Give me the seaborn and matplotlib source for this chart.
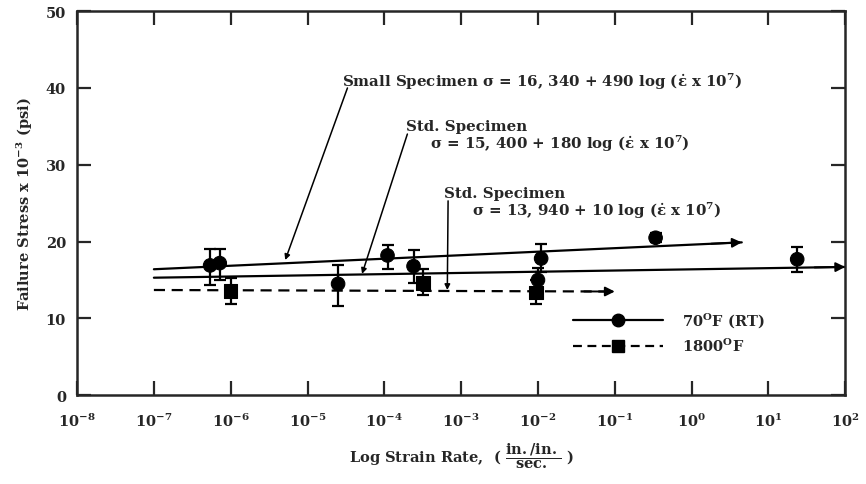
import seaborn as sns
import matplotlib.pyplot as plt
import numpy as np
import pandas as pd
from matplotlib.lines import Line2D

# 70F (RT) data points: strain rate, stress (ksi), error bar low / high
rt_rate = [5.4e-7, 7.2e-7, 2.5e-5, 1.1e-4, 2.4e-4, 1.1e-2, 1.0e-2, 0.34, 23.7]
rt_stress = [16.9, 17.2, 14.5, 18.2, 16.8, 17.8, 15.0, 20.5, 17.7]
rt_low = [14.4, 15.0, 11.6, 16.4, 14.6, 16.0, 13.5, 19.9, 16.0]
rt_high = [19.0, 19.0, 16.9, 19.5, 18.9, 19.7, 16.5, 21.1, 19.3]

# 1800F data points
hot_rate = [1.0e-6, 3.2e-4, 9.5e-3]
hot_stress = [13.6, 14.6, 13.4]
hot_low = [11.9, 13.1, 11.9]
hot_high = [15.3, 16.4, 15.0]

# fitted lines (end points)
small_x = [1e-7, 4.5]
small_y = [16.4, 19.9]
std_x = [1e-7, 100]
std_y = [15.3, 16.7]
hotfit_x = [1e-7, 0.1]
hotfit_y = [13.7, 13.5]

xtick_vals = [10.0**k for k in range(-8, 3)]
ytick_vals = [0, 10, 20, 30, 40, 50]

sns.set_style('ticks')
plt.rcParams['font.family'] = ['DejaVu Serif']
plt.rcParams['font.weight'] = 'bold'
plt.rcParams['mathtext.fontset'] = 'dejavuserif'
plt.rcParams['mathtext.default'] = 'bf'

fig = plt.figure(figsize=(8.66, 4.85), dpi=100)
ax = fig.add_axes([0.089, 0.183, 0.887, 0.792])

pts = pd.concat([
    pd.DataFrame({'rate': rt_rate, 'stress': rt_stress, 'temp': 'RT'}),
    pd.DataFrame({'rate': hot_rate, 'stress': hot_stress, 'temp': 'hot'}),
], ignore_index=True)

# error bars
for xs, ys, lo, hi in [(rt_rate, rt_stress, rt_low, rt_high),
                       (hot_rate, hot_stress, hot_low, hot_high)]:
    ys = np.array(ys)
    yerr = [ys - np.array(lo), np.array(hi) - ys]
    ax.errorbar(xs, ys, yerr=yerr, fmt='none', ecolor='black',
                elinewidth=1.6, capsize=4.5, capthick=1.6, zorder=3)

# points
sns.scatterplot(data=pts, x='rate', y='stress', style='temp',
                markers={'RT': 'o', 'hot': 's'}, color='black',
                s=95, edgecolor='black', legend=False, zorder=4, ax=ax)

# fitted lines
sns.lineplot(x=small_x, y=small_y, color='black', lw=1.6, ax=ax)
sns.lineplot(x=std_x, y=std_y, color='black', lw=1.6, ax=ax)
sns.lineplot(x=hotfit_x, y=hotfit_y, color='black', lw=1.6, ax=ax)
ax.lines[-1].set_linestyle((0, (5, 3)))

# arrow heads at the ends of the lines
for xs, ys in [(small_x, small_y), (std_x, std_y), (hotfit_x, hotfit_y)]:
    lx = np.log10(xs)
    back = xs[-1] / 2.5
    yb = np.interp(np.log10(back), lx, ys)
    ax.annotate('', xy=(xs[-1], ys[-1]), xytext=(back, yb),
                arrowprops=dict(arrowstyle='-|>', color='black', lw=1.4,
                                mutation_scale=14, shrinkA=0, shrinkB=0),
                annotation_clip=False)

# labels of the fitted lines
txt = dict(fontsize=10.8, fontweight='bold', va='center', ha='left')
ax.text(10**-4.55, 40.9, r'Small Specimen $\sigma$ = 16, 340 + 490 log ($\dot{\epsilon}$ x 10$^7$)', **txt)
ax.text(10**-3.72, 35.1, 'Std. Specimen', **txt)
ax.text(10**-3.40, 32.9, r'$\sigma$ = 15, 400 + 180 log ($\dot{\epsilon}$ x 10$^7$)', **txt)
ax.text(10**-3.22, 26.3, 'Std. Specimen', **txt)
ax.text(10**-2.86, 24.1, r'$\sigma$ = 13, 940 + 10 log ($\dot{\epsilon}$ x 10$^7$)', **txt)

lead = dict(arrowstyle='-|>', color='black', lw=1.1, mutation_scale=8,
            shrinkA=0, shrinkB=0)
ax.annotate('', xy=(10**-5.29, 17.6), xytext=(10**-4.48, 40.0), arrowprops=lead)
ax.annotate('', xy=(10**-4.29, 15.8), xytext=(10**-3.70, 34.0), arrowprops=lead)
ax.annotate('', xy=(10**-3.18, 13.7), xytext=(10**-3.17, 25.3), arrowprops=lead)

# legend
handles = [
    Line2D([], [], color='black', lw=1.6, marker='o', markersize=9),
    Line2D([], [], color='black', lw=1.6, ls=(0, (4, 2.5)), marker='s', markersize=8),
]
ax.legend(handles, [r'70$^{\mathrm{O}}$F (RT)', r'1800$^{\mathrm{O}}$F'],
          loc='center left', bbox_to_anchor=(0.628, 0.165), frameon=False,
          handlelength=6.2, numpoints=1, fontsize=10.5, labelspacing=0.5,
          handletextpad=1.3)

# axes
ax.set_xscale('log')
ax.set_xlim(1e-8, 1e2)
ax.set_ylim(0, 50)
ax.set_xticks(xtick_vals)
ax.set_yticks(ytick_vals)
ax.minorticks_off()
ax.tick_params(direction='in', length=10, width=1.6, top=True, right=True,
               labelsize=10.5)
ax.tick_params(axis='x', pad=12)
ax.tick_params(axis='y', pad=8)
for sp in ax.spines.values():
    sp.set_linewidth(1.8)

ax.set_xlabel(r'Log Strain Rate,  ( $\dfrac{\mathrm{in./in.}}{\mathrm{sec.}}$ )',
              fontsize=10.5, fontweight='bold', labelpad=8)
ax.set_ylabel(r'Failure Stress x 10$^{-3}$ (psi)', fontsize=10.5,
              fontweight='bold', labelpad=8)

plt.savefig('out.png', dpi=100)
